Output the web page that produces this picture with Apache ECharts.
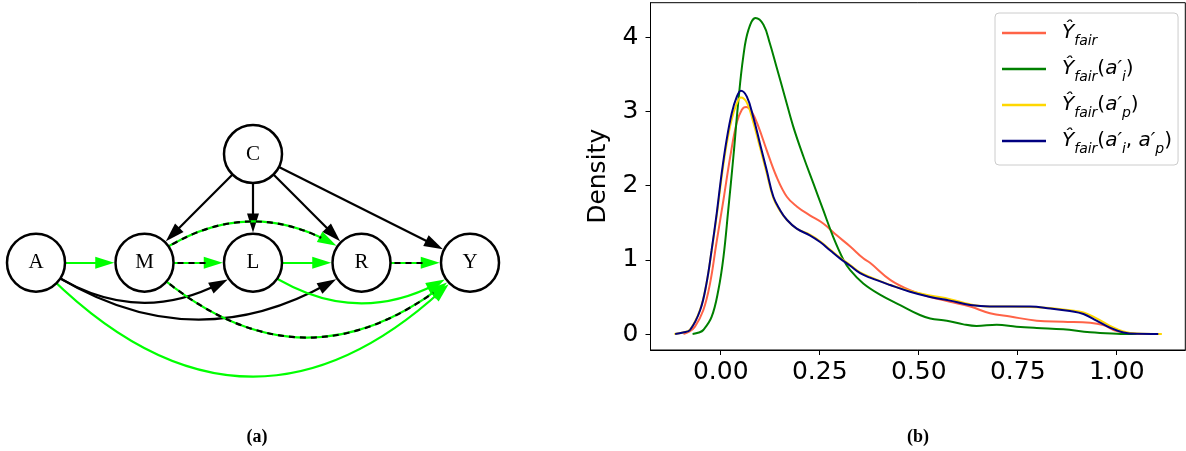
<!DOCTYPE html>
<html><head><meta charset="utf-8">
<script src="https://cdn.jsdelivr.net/npm/echarts@6/dist/echarts.min.js"></script>
<style>html,body{margin:0;padding:0;background:#fff}#c{width:1186px;height:451px}</style>
</head><body><div id="c"></div>
<script>
// ---------- density plot data (b) ----------
const seriesNames = ['Yfair', 'Yfair(ai)', 'Yfair(ap)', 'Yfair(ai,ap)'];
const legendLabels = [
  '{it|Ŷ}{sub|fair}',
  '{it|Ŷ}{sub|fair}{up|(}{it|a′}{sub|i}{up|)}',
  '{it|Ŷ}{sub|fair}{up|(}{it|a′}{sub|p}{up|)}',
  '{it|Ŷ}{sub|fair}{up|(}{it|a′}{sub|i}{up|, }{it|a′}{sub|p}{up|)}'
];
const seriesColors = ['#ff6347', '#008000', '#ffd700', '#000080'];
const curveFair = [[-0.094,0],[-0.08,0.03],[-0.065,0.10],[-0.044,0.32],[-0.027,0.68],[-0.011,1.22],[0.007,1.81],[0.024,2.39],[0.040,2.84],[0.053,3.02],[0.064,3.06],[0.078,3.00],[0.095,2.80],[0.116,2.48],[0.141,2.12],[0.167,1.85],[0.192,1.72],[0.225,1.60],[0.259,1.49],[0.293,1.33],[0.327,1.18],[0.36,1.02],[0.377,0.96],[0.428,0.73],[0.478,0.59],[0.529,0.50],[0.579,0.435],[0.630,0.37],[0.680,0.28],[0.731,0.235],[0.798,0.18],[0.865,0.166],[0.933,0.153],[0.966,0.12],[1.0,0.04],[1.042,0.005],[1.09,0]];
const curveAi = [[-0.071,0],[-0.055,0.02],[-0.044,0.054],[-0.023,0.23],[-0.006,0.59],[0.007,1.04],[0.019,1.67],[0.032,2.39],[0.044,3.11],[0.057,3.74],[0.070,4.10],[0.088,4.26],[0.108,4.17],[0.124,3.92],[0.141,3.60],[0.162,3.20],[0.183,2.80],[0.209,2.39],[0.234,2.03],[0.259,1.67],[0.284,1.31],[0.310,1.00],[0.327,0.86],[0.36,0.68],[0.402,0.53],[0.453,0.39],[0.503,0.256],[0.529,0.21],[0.571,0.18],[0.613,0.13],[0.646,0.108],[0.697,0.126],[0.747,0.099],[0.798,0.081],[0.865,0.063],[0.933,0.023],[1.0,0.005],[1.05,0]];
const curveAp = [[-0.117,0],[-0.095,0.02],[-0.0775,0.06],[-0.052,0.33],[-0.036,0.68],[-0.023,1.12],[-0.010,1.60],[0.0025,2.12],[0.015,2.56],[0.028,2.90],[0.040,3.10],[0.051,3.19],[0.066,3.12],[0.082,2.86],[0.099,2.52],[0.116,2.17],[0.133,1.83],[0.150,1.66],[0.167,1.54],[0.192,1.42],[0.225,1.34],[0.251,1.25],[0.276,1.14],[0.301,1.03],[0.327,0.93],[0.352,0.83],[0.377,0.77],[0.428,0.66],[0.478,0.58],[0.529,0.52],[0.579,0.47],[0.630,0.40],[0.680,0.37],[0.731,0.37],[0.781,0.365],[0.832,0.35],[0.882,0.32],[0.916,0.29],[0.949,0.21],[0.983,0.11],[1.017,0.035],[1.05,0.006],[1.114,0]];
const curveAiAp = [[-0.115,0],[-0.095,0.02],[-0.0775,0.054],[-0.052,0.32],[-0.036,0.68],[-0.023,1.13],[-0.010,1.63],[0.0025,2.17],[0.015,2.62],[0.028,2.98],[0.040,3.19],[0.051,3.28],[0.066,3.20],[0.082,2.93],[0.099,2.57],[0.116,2.21],[0.133,1.85],[0.150,1.67],[0.167,1.54],[0.192,1.42],[0.225,1.33],[0.251,1.24],[0.276,1.13],[0.301,1.02],[0.327,0.92],[0.352,0.82],[0.377,0.76],[0.428,0.66],[0.478,0.57],[0.529,0.50],[0.579,0.45],[0.630,0.39],[0.680,0.37],[0.731,0.37],[0.781,0.37],[0.832,0.345],[0.882,0.31],[0.916,0.27],[0.949,0.18],[0.983,0.085],[1.017,0.02],[1.05,0.002],[1.105,0]];
const curves = [curveFair, curveAi, curveAp, curveAiAp];
const xTicks = [0, 0.25, 0.5, 0.75, 1.0];
const yTicks = [0, 1, 2, 3, 4];

// ---------- causal graph data (a) ----------
const nodeNames = ['A', 'M', 'L', 'R', 'Y', 'C'];
const nodeX = [0, 1, 2, 3, 4, 2];
const nodeY = [0, 0, 0, 0, 0, 1];
const edgeSource = ['C','C','C','C','A','M','L','R','M','A','A','L','M','A'];
const edgeTarget = ['M','L','R','Y','M','L','R','Y','R','L','R','Y','Y','Y'];
const edgeKind   = ['black','black','black','black','green','mixed','green','mixed','mixed','black','black','green','mixed','green'];
const edgeBend   = [0,0,0,0,0,0,0,0,0.38,-0.37,-0.35,-0.375,-0.46,-0.525];

const GREEN = '#00ff00';
const ARROW = 'path://M0,0L6,19L-6,19Z M-9.5,0 M9.5,0';
const NODE_SIZE = 58;

const chart = echarts.init(document.getElementById('c'), null, {renderer: 'canvas'});

function nodesData(size, visible) {
  return nodeNames.map((n, i) => ({
    name: n, value: [nodeX[i], nodeY[i]], symbolSize: size,
    itemStyle: visible ? {color: '#fff', borderColor: '#000', borderWidth: 2.5} : {opacity: 0},
    label: {show: visible}
  }));
}

const baseLinks = edgeSource.map((s, i) => ({
  source: s, target: edgeTarget[i],
  lineStyle: {color: edgeKind[i] === 'black' ? '#000' : GREEN, width: 2.2, curveness: edgeBend[i], opacity: 1}
}));
const dashLinks = [];
edgeSource.forEach((s, i) => {
  if (edgeKind[i] === 'mixed') {
    dashLinks.push({source: s, target: edgeTarget[i],
      lineStyle: {color: '#000', width: 2.2, curveness: edgeBend[i], type: [6, 5], opacity: 1}});
  }
});

const graphCommon = {
  type: 'graph', coordinateSystem: 'cartesian2d', xAxisIndex: 1, yAxisIndex: 1,
  layout: 'none', silent: true, animation: false, roam: false,
  emphasis: {disabled: true}
};

const lineSeries = curves.map((c, i) => ({
  name: seriesNames[i], type: 'line', data: c, xAxisIndex: 0, yAxisIndex: 0,
  showSymbol: false, symbol: 'none', smooth: 0.4, z: 2 + i,
  lineStyle: {color: seriesColors[i], width: 2}, itemStyle: {color: seriesColors[i]},
  animation: false, silent: true
}));

const richStyles = {
  it: {fontFamily: 'DejaVu Sans', fontStyle: 'italic', fontSize: 20, lineHeight: 30, color: '#000'},
  up: {fontFamily: 'DejaVu Sans', fontSize: 20, lineHeight: 30, color: '#000'},
  sub: {fontFamily: 'DejaVu Sans', fontStyle: 'italic', fontSize: 14, lineHeight: 17, verticalAlign: 'bottom', color: '#000'}
};

const option = {
  animation: false,
  backgroundColor: '#fff',
  grid: [
    {left: 650.5, top: 2.7, right: 0.7, bottom: 101, show: true, borderColor: '#000', borderWidth: 1, containLabel: false},
    {left: 36, top: 154, width: 434, height: 108.7, show: false}
  ],
  xAxis: [
    {type: 'value', gridIndex: 0, min: -0.1773, max: 1.1732,
     axisLine: {show: true, onZero: false, lineStyle: {color: '#000', width: 1}},
     axisTick: {show: true, length: 5, lineStyle: {color: '#000', width: 1}, customValues: xTicks},
     axisLabel: {show: true, customValues: xTicks, formatter: v => v.toFixed(2), fontSize: 25,
                 fontFamily: 'DejaVu Sans', color: '#000', margin: 10},
     splitLine: {show: false}},
    {type: 'value', gridIndex: 1, min: 0, max: 4, show: false}
  ],
  yAxis: [
    {type: 'value', gridIndex: 0, min: -0.2157, max: 4.467,
     name: 'Density', nameLocation: 'middle', nameGap: 40,
     nameTextStyle: {fontSize: 25, fontFamily: 'DejaVu Sans', color: '#000'},
     axisLine: {show: true, onZero: false, lineStyle: {color: '#000', width: 1}},
     axisTick: {show: true, length: 5, lineStyle: {color: '#000', width: 1}, customValues: yTicks},
     axisLabel: {show: true, customValues: yTicks, formatter: v => String(v), fontSize: 25,
                 fontFamily: 'DejaVu Sans', color: '#000', margin: 12},
     splitLine: {show: false}},
    {type: 'value', gridIndex: 1, min: 0, max: 1, show: false}
  ],
  legend: {
    data: seriesNames, orient: 'vertical', left: 995, top: 13,
    padding: [10, 6, 9, 7], itemGap: 11, itemWidth: 44, itemHeight: 2.5, icon: 'rect',
    backgroundColor: 'rgba(255,255,255,0.8)', borderColor: '#cccccc', borderWidth: 1, borderRadius: 4,
    formatter: name => legendLabels[seriesNames.indexOf(name)],
    textStyle: {padding: [0, 0, 0, 11], rich: richStyles},
    selectedMode: false
  },
  graphic: [
    {type: 'text', x: 257, y: 437, silent: true,
     style: {text: '(a)', fontFamily: 'Liberation Serif', fontWeight: 'bold', fontSize: 18, fill: '#000', align: 'center', verticalAlign: 'middle'}},
    {type: 'text', x: 918, y: 437, silent: true,
     style: {text: '(b)', fontFamily: 'Liberation Serif', fontWeight: 'bold', fontSize: 18, fill: '#000', align: 'center', verticalAlign: 'middle'}}
  ],
  series: [
    ...lineSeries,
    Object.assign({}, graphCommon, {
      name: 'edges', z: 2,
      data: nodesData(NODE_SIZE + 2.5 + 19, false),
      links: baseLinks,
      edgeSymbol: ['none', ARROW], edgeSymbolSize: [0, 19],
      label: {show: false}
    }),
    Object.assign({}, graphCommon, {
      name: 'dashes', z: 3,
      data: nodesData(NODE_SIZE + 2.5 + 34, false),
      links: dashLinks,
      edgeSymbol: ['none', 'circle'], edgeSymbolSize: [0, 0],
      label: {show: false}
    }),
    Object.assign({}, graphCommon, {
      name: 'nodes', z: 4,
      data: nodesData(NODE_SIZE, true),
      links: [],
      label: {show: true, position: 'inside', color: '#000', fontFamily: 'Liberation Serif', fontSize: 21}
    })
  ]
};
chart.setOption(option);
</script></body></html>
